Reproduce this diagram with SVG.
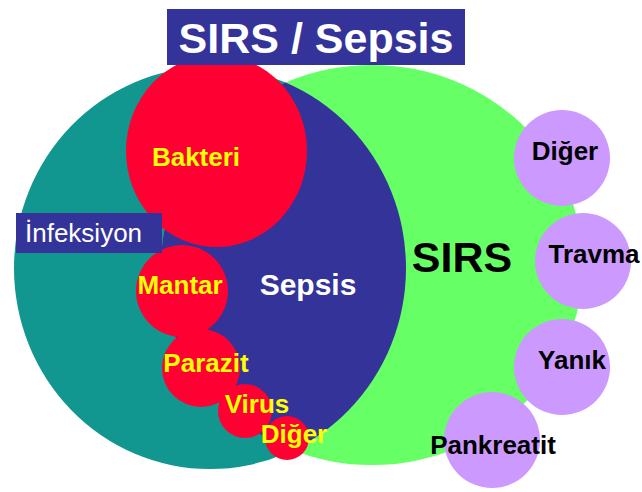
<svg xmlns="http://www.w3.org/2000/svg" width="642" height="492" viewBox="0 0 642 492">
  <style>
    text { font-family: "Liberation Sans", Arial, sans-serif; font-weight: bold; text-anchor: middle; }
    .red { fill: #ff0033; }
    .pur { fill: #cc99ff; }
    .navy { fill: #333399; }
    .ylw { fill: #ffff00; font-size: 26px; }
    .blk { fill: #000000; font-size: 26px; }
  </style>
  <defs>
    <clipPath id="greenClip">
      <ellipse cx="372" cy="265" rx="211" ry="200"/>
    </clipPath>
  </defs>
  <rect width="642" height="492" fill="#ffffff"/>

  <g id="infeksiyon-set">
    <ellipse cx="210" cy="268" rx="196" ry="201" fill="#119690"/>
  </g>
  <g id="sirs-set">
    <ellipse cx="372" cy="265" rx="211" ry="200" fill="#66ff66"/>
    <text x="462" y="272" style="font-size:43px" fill="#000">SIRS</text>
  </g>
  <g id="sepsis">
    <ellipse cx="210" cy="268" rx="196" ry="201" class="navy" clip-path="url(#greenClip)"/>
    <text x="308" y="295" style="font-size:30px" fill="#ffffff">Sepsis</text>
  </g>

  <g id="bakteri">
    <ellipse cx="216.5" cy="151" rx="90.5" ry="96" class="red"/>
    <text x="196" y="166" class="ylw">Bakteri</text>
  </g>
  <g id="mantar">
    <circle cx="182" cy="291" r="46" class="red"/>
    <text x="180" y="294" class="ylw">Mantar</text>
  </g>
  <g id="parazit">
    <circle cx="201" cy="368" r="39" class="red"/>
    <text x="206" y="372" class="ylw">Parazit</text>
  </g>
  <g id="virus">
    <circle cx="245" cy="411" r="27" class="red"/>
    <text x="257" y="413" class="ylw">Virus</text>
  </g>
  <g id="diger-enf">
    <circle cx="287" cy="438" r="22" class="red"/>
    <text x="294" y="443" class="ylw">Diğer</text>
  </g>

  <g id="diger-sirs">
    <circle cx="562" cy="158" r="48" class="pur"/>
    <text x="565" y="160" class="blk">Diğer</text>
  </g>
  <g id="travma">
    <circle cx="583" cy="261" r="48" class="pur"/>
    <text x="594" y="263" class="blk">Travma</text>
  </g>
  <g id="yanik">
    <circle cx="562" cy="367" r="48" class="pur"/>
    <text x="572" y="369" class="blk">Yanık</text>
  </g>
  <g id="pankreatit">
    <circle cx="492" cy="440" r="48" class="pur"/>
    <text x="493" y="454" class="blk">Pankreatit</text>
  </g>

  <g id="title">
    <rect x="167" y="9" width="298" height="56" class="navy"/>
    <text x="316" y="53" style="font-size:43px" fill="#ffffff">SIRS / Sepsis</text>
  </g>
  <g id="infeksiyon-label">
    <rect x="16" y="213" width="146" height="40" class="navy"/>
    <text x="25" y="242" style="font-size:26px;font-weight:normal;text-anchor:start" fill="#ffffff">İnfeksiyon</text>
  </g>
</svg>
